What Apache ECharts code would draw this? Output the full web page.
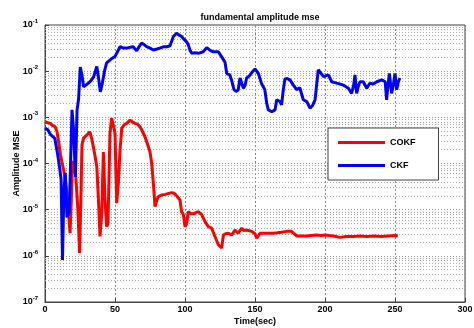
<!DOCTYPE html>
<html>
<head>
<meta charset="utf-8">
<script src="https://cdn.jsdelivr.net/npm/echarts@6/dist/echarts.min.js"></script>
<style>
  html, body { margin: 0; padding: 0; background: #fff; }
  #chart { width: 474px; height: 328px; }
</style>
</head>
<body>
<div id="chart"></div>
<script>
// Time stamps (s) and amplitude MSE for the CQKF filter
var timeCQKF = [0, 2, 3.8, 5.5, 7.2, 8.5, 9.6, 11, 12, 13.3, 14.5, 15.5, 16.6, 17.9, 18.8, 19.5, 20.5, 22, 23.5, 24.7,
  25.6, 26.4, 27.5, 28.6, 30, 32, 33.3, 34.5, 35.8, 37, 38.2, 39.3, 40.5, 41.7, 42.9, 44, 45, 46.4, 47.6, 48.8,
  50, 51.2, 52.4, 53.6, 54.8, 56.5, 58.4, 60.7, 62.5, 64.3, 66, 67.9, 69.5, 71.4, 73.8, 75, 76.2, 77.4, 78.6, 80,
  81, 83.5, 85.7, 87, 90.5, 92.5, 94, 96.4, 97.6, 98.8, 100, 101.2, 102.4, 104, 106, 108, 109.5, 111.9, 113, 114.3,
  116.7, 119, 121.4, 123.8, 126.2, 127.4, 129, 131, 133.3, 135.7, 138, 140.5, 142, 144, 147.6, 150, 151.2, 153.6, 158.4, 163,
  166, 169, 172.6, 176, 179.8, 183, 187, 190, 194, 197, 200, 203, 206, 210.7, 215, 220, 225, 230, 235, 240, 245, 250, 252];
var mseCQKF = [8.1e-4, 7.6e-4, 7.4e-4, 6.6e-4, 6.3e-4, 5.0e-4, 3.16e-4, 1.58e-4, 1.12e-4, 7.2e-5, 4.5e-5, 2.5e-5, 1.0e-5, 3.1e-6, 1.58e-5, 1.0e-4, 1.12e-4, 5.0e-5, 1.0e-5, 1.15e-6,
  1.58e-5, 2.5e-4, 3.55e-4, 3.8e-4, 4.17e-4, 4.9e-4, 3.55e-4, 2.34e-4, 1.41e-4, 8.5e-5, 1.58e-5, 2.63e-6, 8.3e-6, 1.78e-4, 1.62e-5, 4.27e-6, 5.0e-6, 4.47e-4, 9.55e-4, 1.05e-3,
  4.57e-4, 1.38e-5, 3.72e-5, 1.95e-4, 5.75e-4, 6.9e-4, 7.4e-4, 8.7e-4, 7.9e-4, 7.4e-4, 7.1e-4, 6.3e-4, 5.0e-4, 3.8e-4, 2.34e-4, 1.78e-4, 1.02e-4, 3.72e-5, 1.17e-5, 1.66e-5,
  1.91e-5, 2.09e-5, 2.14e-5, 2.29e-5, 2.34e-5, 2.24e-5, 2.0e-5, 1.62e-5, 8.9e-6, 7.9e-6, 4.27e-6, 5.0e-6, 9.1e-6, 8.3e-6, 8.1e-6, 8.7e-6, 9.1e-6, 7.8e-6, 8.3e-6, 5.5e-6,
  4.27e-6, 3.98e-6, 2.63e-6, 1.74e-6, 1.48e-6, 2.82e-6, 3.02e-6, 3.09e-6, 2.82e-6, 3.63e-6, 3.09e-6, 3.98e-6, 3.55e-6, 3.63e-6, 3.39e-6, 3.02e-6, 2.4e-6, 3.09e-6, 3.09e-6, 3.09e-6,
  3.16e-6, 3.24e-6, 3.39e-6, 3.39e-6, 2.69e-6, 2.69e-6, 2.69e-6, 2.75e-6, 2.82e-6, 2.75e-6, 2.82e-6, 2.75e-6, 2.69e-6, 2.51e-6, 2.63e-6, 2.63e-6, 2.69e-6, 2.63e-6, 2.69e-6, 2.63e-6, 2.69e-6, 2.75e-6, 2.69e-6];

// Time stamps (s) and amplitude MSE for the CKF filter
var timeCKF = [0, 2, 4, 7, 9, 10.5, 11.5, 12.5, 13.5, 14.5, 15.7, 17.2, 18, 19.3, 20.5, 21.7, 22.9, 24, 25.2, 26.5,
  27.6, 29, 31, 33, 34.8, 37, 38.5, 39.5, 41, 42.5, 44, 46, 48, 50, 52.4, 53.6, 56, 58.4, 61, 63,
  65.5, 67, 69, 71, 72.6, 75, 77.4, 80, 82, 85, 87, 89.3, 91.7, 94, 96, 97.6, 99, 101, 102.4, 103.6,
  104.8, 107, 110, 113, 115.5, 118, 120.2, 123.8, 126.2, 128.6, 129.8, 131, 132, 133.3, 135, 136.5, 138, 139.3, 141.7, 143,
  144, 146, 148, 150, 151, 152.4, 154.8, 157, 158.4, 159.5, 160.7, 162, 164.3, 165.5, 166.7, 167.9, 169, 170.2, 171.4, 173,
  175, 177.4, 179.8, 182, 184.5, 187, 189.3, 191, 192.9, 194, 195.2, 196.5, 197.6, 199, 200, 202.4, 204.8, 208.4, 211, 213,
  216.7, 219, 220.5, 221.4, 222.6, 224, 225, 227.4, 229.8, 232, 234.5, 237, 240.5, 243, 244, 245, 246, 247.6, 248.8, 250,
  251.2, 252.4, 253.5];
var mseCKF = [5.9e-4, 5.4e-4, 4.2e-4, 3.5e-4, 1.6e-4, 7.9e-5, 4.5e-5, 8.1e-7, 2.5e-5, 6.3e-5, 6.9e-6, 8.5e-6, 5.0e-5, 1.45e-3, 5.0e-4, 5.1e-5, 1.45e-3, 2.5e-3, 1.23e-2, 7.9e-3,
  4.6e-3, 5.0e-3, 5.5e-3, 6.3e-3, 7.6e-3, 1.26e-2, 6.3e-3, 3.55e-3, 5.6e-3, 1.0e-2, 1.51e-2, 1.7e-2, 1.91e-2, 2.09e-2, 2.88e-2, 3.39e-2, 3.16e-2, 3.16e-2, 3.31e-2, 3.39e-2,
  2.75e-2, 3.31e-2, 4.07e-2, 3.72e-2, 3.39e-2, 3.16e-2, 2.88e-2, 3.02e-2, 3.16e-2, 3.39e-2, 3.39e-2, 3.55e-2, 5.62e-2, 6.61e-2, 6.03e-2, 5.62e-2, 5.01e-2, 4.37e-2, 3.72e-2, 2.82e-2,
  2.45e-2, 2.51e-2, 2.45e-2, 2.63e-2, 3.24e-2, 2.82e-2, 2.63e-2, 2.63e-2, 2.04e-2, 1.55e-2, 8.9e-3, 8.9e-3, 8.3e-3, 6.3e-3, 3.98e-3, 3.63e-3, 3.89e-3, 7.1e-3, 4.27e-3, 5.0e-3,
  7.1e-3, 7.9e-3, 9.55e-3, 1.12e-2, 1.15e-2, 8.9e-3, 5.25e-3, 3.98e-3, 2.0e-3, 1.45e-3, 1.32e-3, 1.32e-3, 1.45e-3, 2.4e-3, 2.57e-3, 2.19e-3, 1.86e-3, 3.98e-3, 6.76e-3, 6.92e-3,
  6.46e-3, 5.0e-3, 3.98e-3, 4.37e-3, 2.4e-3, 2.19e-3, 1.58e-3, 1.78e-3, 2.4e-3, 5.0e-3, 1.07e-2, 9.55e-3, 8.9e-3, 7.6e-3, 7.1e-3, 8.3e-3, 5.9e-3, 5.5e-3, 5.25e-3, 5.0e-3,
  4.27e-3, 3.31e-3, 5.0e-3, 8.3e-3, 3.31e-3, 5.0e-3, 5.9e-3, 5.9e-3, 4.27e-3, 5.5e-3, 5.25e-3, 5.9e-3, 6.46e-3, 5.9e-3, 2.4e-3, 5.0e-3, 8.9e-3, 3.31e-3, 5.0e-3, 8.9e-3,
  3.98e-3, 5.9e-3, 7.1e-3];

// Axis settings
var xTicks = [0, 50, 100, 150, 200, 250, 300];
var yDecades = [-7, -6, -5, -4, -3, -2, -1];
var seriesNames = ['COKF', 'CKF'];

function pairs(t, v) {
  return t.map(function (x, i) { return [x, v[i]]; });
}

// Intermediate log grid lines (2..9 x 10^k), drawn across the full time range
var xMin = xTicks[0], xMax = xTicks[xTicks.length - 1];
var minorGrid = [];
for (var k = yDecades[0]; k < yDecades[yDecades.length - 1]; k++) {
  for (var m = 2; m <= 9; m++) {
    var v = m * Math.pow(10, k);
    minorGrid.push({ coords: [[xMin, v], [xMax, v]] });
  }
}

var font = 'Liberation Sans';
var chart = echarts.init(document.getElementById('chart'), null, { renderer: 'canvas' });
chart.setOption({
  animation: false,
  backgroundColor: '#fff',
  title: {
    text: 'fundamental amplitude mse',
    left: 255, top: 8, textAlign: 'center',
    textStyle: { fontFamily: font, fontSize: 9, fontWeight: 'bold', color: '#000' }
  },
  grid: {
    left: 45, right: 9, top: 25, bottom: 26,
    outerBoundsMode: 'none', containLabel: false,
    show: true, borderColor: '#444', borderWidth: 1, backgroundColor: 'transparent'
  },
  legend: {
    left: 328, top: 128, orient: 'vertical',
    data: seriesNames,
    icon: 'rect', itemWidth: 47, itemHeight: 3, itemGap: 14,
    padding: [10, 23, 10, 10],
    backgroundColor: '#fff', borderColor: '#444', borderWidth: 1,
    textStyle: { fontFamily: font, fontSize: 9, fontWeight: 'bold', color: '#000' }
  },
  xAxis: {
    type: 'value', min: xMin, max: xMax, interval: 50,
    name: 'Time(sec)', nameLocation: 'middle', nameGap: 15, nameMoveOverlap: false,
    nameTextStyle: { fontFamily: font, fontSize: 9, fontWeight: 'bold', color: '#000' },
    axisLine: { show: true, lineStyle: { color: '#444' } },
    axisTick: { show: true, inside: true, length: 4, lineStyle: { color: '#444' } },
    axisLabel: { fontFamily: font, fontSize: 9, fontWeight: 'bold', color: '#000', margin: 3 },
    splitLine: { show: true, lineStyle: { color: '#888', type: [2, 2], width: 1 } }
  },
  yAxis: {
    type: 'log', logBase: 10,
    min: Math.pow(10, yDecades[0]), max: Math.pow(10, yDecades[yDecades.length - 1]),
    splitNumber: 6,
    name: 'Amplitude MSE', nameLocation: 'middle', nameGap: 24, nameMoveOverlap: false,
    nameTextStyle: { fontFamily: font, fontSize: 9, fontWeight: 'bold', color: '#000' },
    axisLine: { show: true, lineStyle: { color: '#444' } },
    axisTick: { show: true, inside: true, length: 4, lineStyle: { color: '#444' } },
    axisLabel: {
      margin: 7,
      formatter: function (val) {
        var e = Math.round(Math.log10(val));
        return '{b|10}{s|' + e + '}';
      },
      rich: {
        b: { fontFamily: font, fontSize: 9, fontWeight: 'bold', color: '#000' },
        s: { fontFamily: font, fontSize: 6, fontWeight: 'bold', color: '#000', verticalAlign: 'bottom', padding: [0, 0, 7, 0] }
      }
    },
    splitLine: { show: true, lineStyle: { color: '#999', type: [1, 2], width: 1 } }
  },
  series: [
    {
      name: 'minor grid', type: 'lines', coordinateSystem: 'cartesian2d',
      data: minorGrid, silent: true, z: 1,
      lineStyle: { color: '#aaa', type: [1, 2], width: 1, opacity: 1 }
    },
    {
      name: seriesNames[0], type: 'line', data: pairs(timeCQKF, mseCQKF),
      showSymbol: false, symbol: 'none', z: 3,
      lineStyle: { color: '#ff0000', width: 3 }, itemStyle: { color: '#ff0000' }
    },
    {
      name: seriesNames[1], type: 'line', data: pairs(timeCKF, mseCKF),
      showSymbol: false, symbol: 'none', z: 4,
      lineStyle: { color: '#0000ff', width: 3 }, itemStyle: { color: '#0000ff' }
    }
  ]
});
</script>
</body>
</html>
